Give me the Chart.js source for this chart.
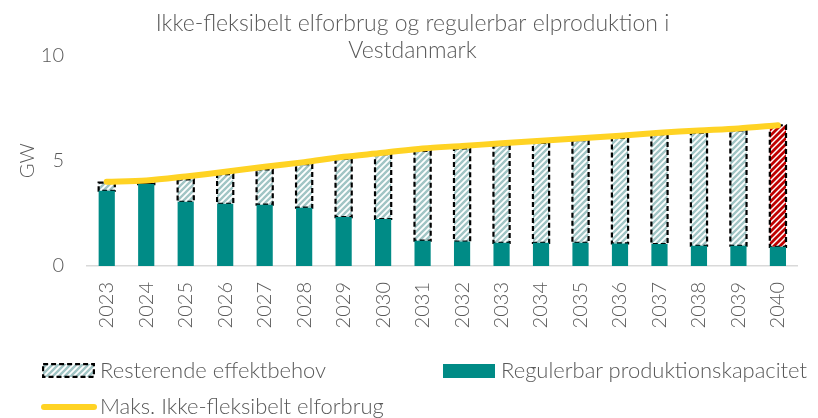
<!DOCTYPE html>
<html>
<head>
<meta charset="utf-8">
<script src="https://cdn.jsdelivr.net/npm/chart.js@4"></script>
<style>
    html, body { margin: 0; padding: 0; background: #fff; }
    #wrap { position: relative; width: 818px; height: 418px; }
    #chart { position: absolute; left: 0; top: 0; }
    .legend-item {
        position: absolute;
        font-family: Lato, 'Open Sans', sans-serif;
        font-weight: 300;
        font-size: 22px;
        color: #595959;
        white-space: nowrap;
        line-height: 22px;
    }
    .legend-item canvas { position: absolute; }
</style>
</head>
<body>
<div id="wrap">
    <canvas id="chart" width="818" height="418"></canvas>
    <div class="legend-item" id="lgRest" style="left:42px; top:359px;">
        <canvas id="swRest" width="53" height="15" style="left:0; top:4px;"></canvas>
        <span style="margin-left:58px;">Resterende effektbehov</span>
    </div>
    <div class="legend-item" id="lgReg" style="left:443px; top:359px;">
        <canvas id="swReg" width="52" height="14" style="left:0; top:5px;"></canvas>
        <span style="margin-left:58px;">Regulerbar produktionskapacitet</span>
    </div>
    <div class="legend-item" id="lgMax" style="left:41px; top:395px;">
        <canvas id="swMax" width="56" height="8" style="left:0; top:8px;"></canvas>
        <span style="margin-left:59px;">Maks. Ikke-fleksibelt elforbrug</span>
    </div>
</div>
<script>
// Data (GW)
const years = ['2023', '2024', '2025', '2026', '2027', '2028', '2029', '2030', '2031',
    '2032', '2033', '2034', '2035', '2036', '2037', '2038', '2039', '2040'];
const regulerbar = [3.57, 3.89, 3.05, 2.95, 2.91, 2.77, 2.32, 2.23, 1.20,
    1.16, 1.10, 1.10, 1.10, 1.07, 1.04, 0.96, 0.96, 0.91];
const resterende = [0.39, 0.03, 1.06, 1.41, 1.67, 2.06, 2.77, 3.08, 4.26,
    4.42, 4.63, 4.74, 4.87, 5.01, 5.22, 5.37, 5.48, 5.77];
const maksForbrug = [4.00, 4.06, 4.25, 4.47, 4.71, 4.93, 5.18, 5.37, 5.58,
    5.70, 5.82, 5.94, 6.06, 6.18, 6.32, 6.43, 6.53, 6.68];
const yTicks = [0, 5, 10];

const TEAL = '#008B86';
const YELLOW = '#FFD324';
const HATCH = '#A1C5C5';
const TEXT = '#595959';
const FONT = "Lato, 'Open Sans', sans-serif";

const canvas = document.getElementById('chart');
const ctx = canvas.getContext('2d');

// diagonal hatch tile (/ stripes)
function hatchTile(stripe, lineWidth) {
    const tile = document.createElement('canvas');
    tile.width = 6;
    tile.height = 6;
    const g = tile.getContext('2d');
    g.fillStyle = '#ffffff';
    g.fillRect(0, 0, 6, 6);
    g.strokeStyle = stripe;
    g.lineWidth = lineWidth;
    g.beginPath();
    g.moveTo(-1, 7); g.lineTo(7, -1);
    g.moveTo(-1, 1); g.lineTo(1, -1);
    g.moveTo(5, 7); g.lineTo(7, 5);
    g.stroke();
    return tile;
}

const hatchGrey = ctx.createPattern(hatchTile(HATCH, 2.4), 'repeat');
const hatchRed = ctx.createPattern(hatchTile('#C00000', 2.8), 'repeat');
const restColors = years.map((y, i) => i === years.length - 1 ? hatchRed : hatchGrey);

// bars in Chart.js have no dashed border, so stroke it right after the dataset is drawn
const dashedBorder = {
    id: 'dashedBorder',
    afterDatasetDraw(chart, args) {
        if (args.index !== 1) return;
        const c = chart.ctx;
        c.save();
        c.setLineDash([5, 3]);
        c.lineWidth = 2.2;
        c.strokeStyle = '#000';
        args.meta.data.forEach(bar => {
            const { x, y, base, width } = bar.getProps(['x', 'y', 'base', 'width'], true);
            c.strokeRect(x - width / 2, y, width, base - y);
        });
        c.restore();
    },
};

new Chart(canvas, {
    type: 'bar',
    data: {
        labels: years,
        datasets: [{
            label: 'Regulerbar produktionskapacitet',
            data: regulerbar,
            backgroundColor: TEAL,
            borderWidth: 0,
            barPercentage: 0.82,
            categoryPercentage: 0.5,
            stack: 'bars',
            order: 1,
        }, {
            label: 'Resterende effektbehov',
            data: resterende,
            backgroundColor: restColors,
            borderWidth: 0,
            barPercentage: 0.82,
            categoryPercentage: 0.5,
            stack: 'bars',
            order: 1,
        }, {
            type: 'line',
            label: 'Maks. Ikke-fleksibelt elforbrug',
            data: maksForbrug,
            borderColor: YELLOW,
            borderWidth: 6,
            borderCapStyle: 'round',
            tension: 0.3,
            pointRadius: 0,
            fill: false,
            stack: 'line',
            order: 0,
        }],
    },
    options: {
        responsive: false,
        animation: false,
        layout: {
            padding: { left: 10, right: 3, top: 0, bottom: 0 },
        },
        scales: {
            x: {
                stacked: true,
                grid: { display: false, drawTicks: false },
                border: { display: true, color: '#D9D9D9', width: 1.5 },
                ticks: {
                    color: TEXT,
                    font: { family: FONT, size: 20, weight: 300 },
                    minRotation: 90,
                    maxRotation: 90,
                    padding: 16,
                    autoSkip: false,
                },
                afterFit: (scale) => { scale.height = 152; },
            },
            y: {
                stacked: true,
                min: 0,
                max: 10,
                grid: { display: false, drawTicks: false },
                border: { display: false },
                afterBuildTicks: (scale) => { scale.ticks = yTicks.map(v => ({ value: v })); },
                ticks: {
                    color: TEXT,
                    font: { family: FONT, size: 20, weight: 300 },
                    padding: 23,
                },
                title: {
                    display: true,
                    text: 'GW',
                    color: TEXT,
                    font: { family: FONT, size: 20, weight: 300 },
                    padding: { top: 6, bottom: 0 },
                },
                afterFit: (scale) => { scale.width = 77; },
            },
        },
        plugins: {
            legend: { display: false },
            tooltip: { enabled: false },
            title: {
                display: true,
                text: ['Ikke-fleksibelt elforbrug og regulerbar elproduktion i', 'Vestdanmark'],
                color: TEXT,
                font: { family: FONT, size: 23, weight: 300, lineHeight: 1.18 },
                padding: { top: 10, bottom: -9 },
            },
        },
    },
    plugins: [dashedBorder],
});

// legend swatches
(function drawSwatches() {
    const r = document.getElementById('swRest').getContext('2d');
    r.fillStyle = r.createPattern(hatchTile(HATCH, 2.4), 'repeat');
    r.fillRect(1, 1, 51, 13);
    r.setLineDash([5, 3]);
    r.lineWidth = 2.2;
    r.strokeStyle = '#000';
    r.strokeRect(1.1, 1.1, 50.8, 12.8);

    const q = document.getElementById('swReg').getContext('2d');
    q.fillStyle = TEAL;
    q.fillRect(0, 0, 52, 14);

    const m = document.getElementById('swMax').getContext('2d');
    m.strokeStyle = YELLOW;
    m.lineWidth = 6;
    m.lineCap = 'round';
    m.beginPath();
    m.moveTo(3, 4); m.lineTo(53, 4);
    m.stroke();
})();
</script>
</body>
</html>
